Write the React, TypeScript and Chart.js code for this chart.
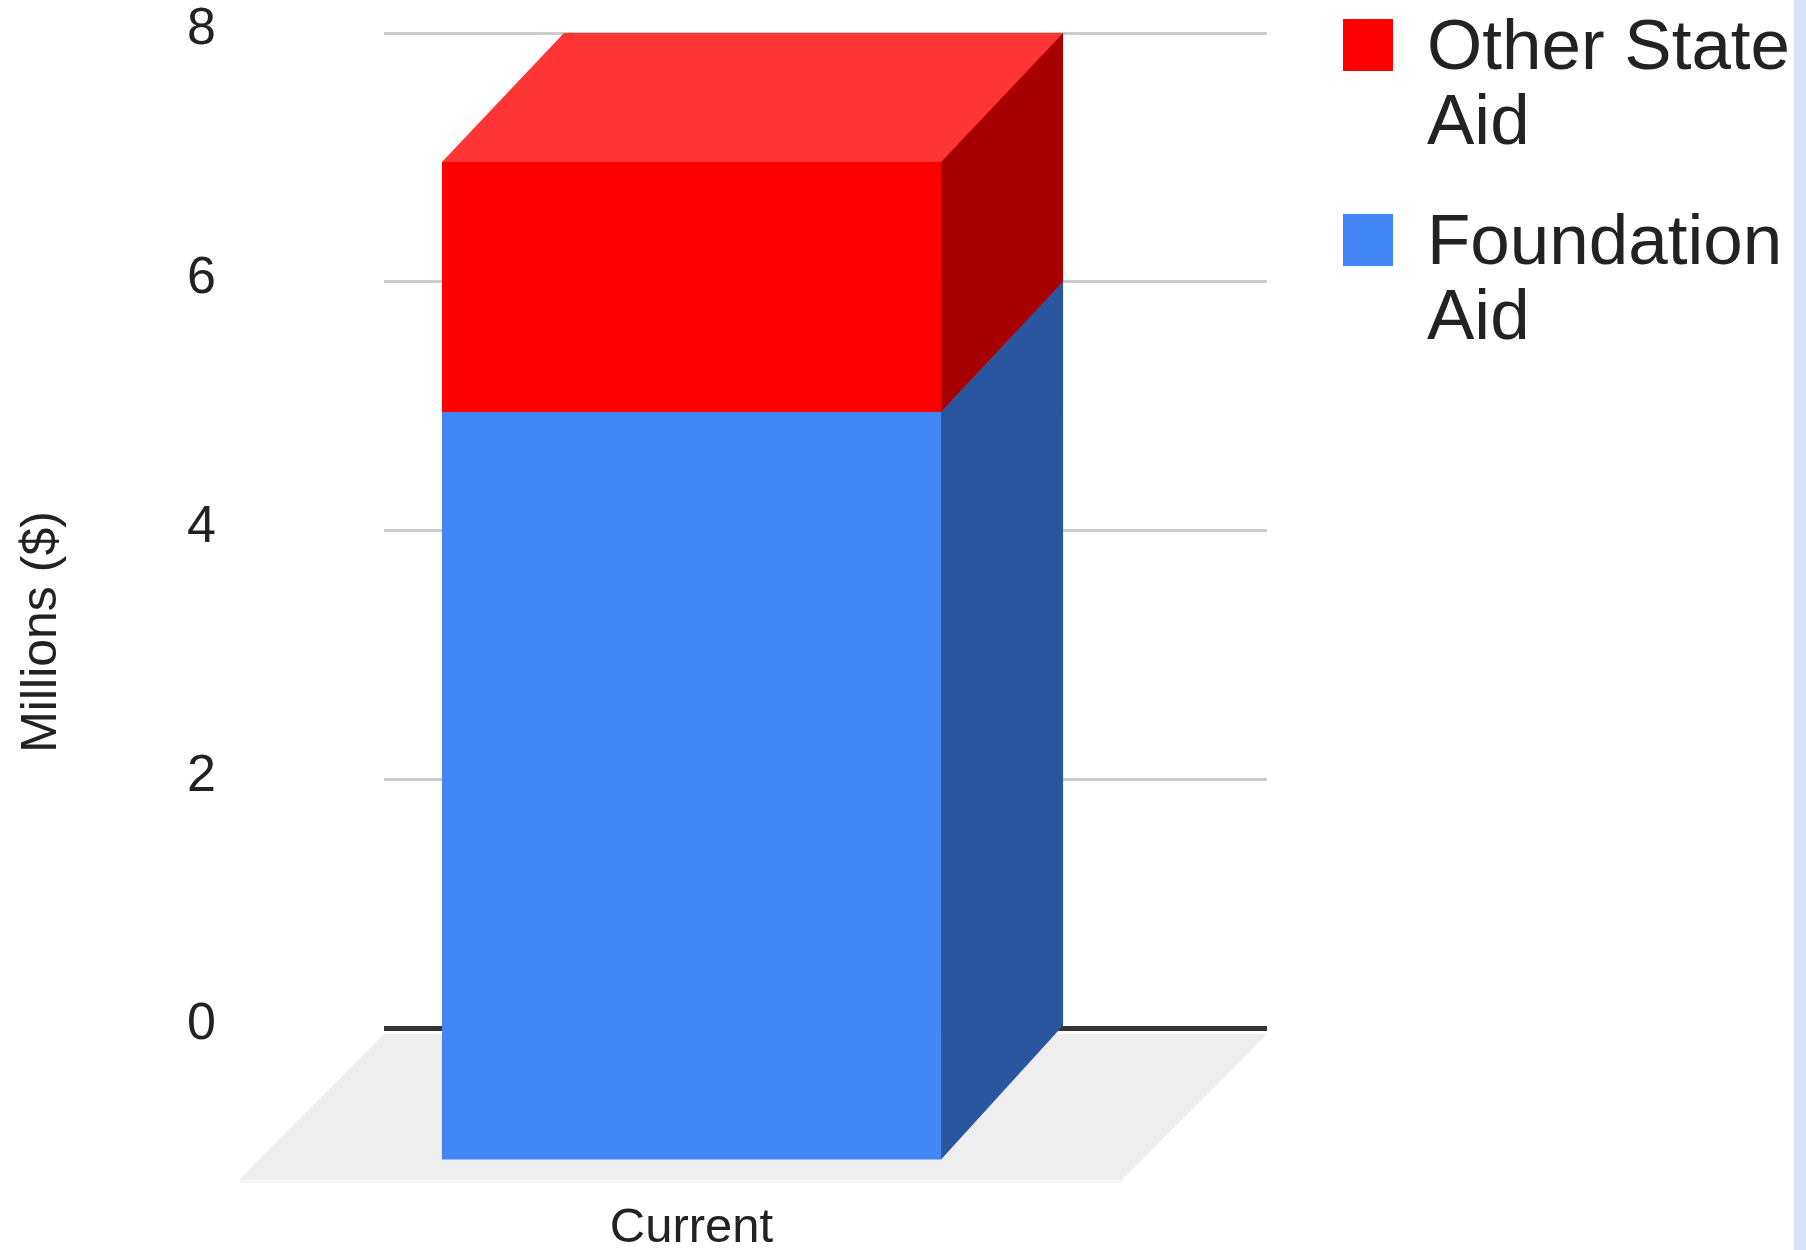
import { useEffect, useRef } from 'react';
import { Chart, registerables } from 'chart.js';

Chart.register(...registerables);

// ---- data ----
const categories = ['Current'];
const seriesNames = ['Foundation Aid', 'Other State Aid'];
const foundationAid = [6];
const otherStateAid = [2];
const yTickValues = [0, 2, 4, 6, 8];
const yAxisTitle = 'Millions ($)';

// ---- style ----
const FONT = "'Liberation Sans', Arial, Helvetica, sans-serif";
const TEXT = '#222222';
const FRONT_COLORS = ['#4285f4', '#ff0000'];
const SIDE_COLORS = ['#2a56a0', '#a60000'];
const TOP_COLORS = ['#5a95f5', '#ff3535'];
const GRID = '#cccccc';
const BASELINE = '#333333';
const FLOOR = '#eeeeee';
const FLOOR_EDGE = '#f5f5f5';
const DX = -122; // depth offset of the bar's front face
const DY_TOP = 129;
const DY_BOTTOM = 134;
const FLOOR_GAP = 6;
const FLOOR_DX = -144;
const FLOOR_DY = 145;

const gridColor = (c: any) => (c.tick && c.tick.value === 0 ? BASELINE : GRID);
const gridWidth = (c: any) => (c.tick && c.tick.value === 0 ? 5 : 3);

const threeD = {
  id: 'threeD',
  beforeDatasetsDraw(chart: any) {
    const { ctx, chartArea: a, scales } = chart;
    const x0 = a.left;
    const x1 = scales.y2.right;
    const by = a.bottom + FLOOR_GAP;
    ctx.save();
    ctx.fillStyle = FLOOR;
    ctx.beginPath();
    ctx.moveTo(x0, by);
    ctx.lineTo(x1, by);
    ctx.lineTo(x1 + FLOOR_DX, by + FLOOR_DY);
    ctx.lineTo(x0 + FLOOR_DX, by + FLOOR_DY);
    ctx.closePath();
    ctx.fill();
    ctx.fillStyle = FLOOR_EDGE;
    ctx.fillRect(x0 + FLOOR_DX, by + FLOOR_DY, x1 - x0, 4);
    ctx.restore();
  },
  afterDatasetsDraw(chart: any) {
    const { ctx, chartArea: a } = chart;
    const fy = (y: number) =>
      y + DY_TOP + ((y - a.top) / (a.bottom - a.top)) * (DY_BOTTOM - DY_TOP);
    const n = chart.data.datasets.length;
    ctx.save();
    for (let d = 0; d < n; d++) {
      const meta = chart.getDatasetMeta(d);
      meta.data.forEach((el: any) => {
        const bl = el.x - el.width / 2;
        const br = el.x + el.width / 2;
        const top = Math.min(el.y, el.base);
        const bot = Math.max(el.y, el.base);
        const fl = bl + DX;
        const fr = br + DX;
        // side face
        ctx.fillStyle = SIDE_COLORS[d];
        ctx.beginPath();
        ctx.moveTo(fr, fy(top));
        ctx.lineTo(br, top);
        ctx.lineTo(br, bot);
        ctx.lineTo(fr, fy(bot));
        ctx.closePath();
        ctx.fill();
        // front face
        ctx.fillStyle = FRONT_COLORS[d];
        ctx.fillRect(fl, fy(top), fr - fl, fy(bot) - fy(top));
        // top face (only on the top of the stack)
        if (d === n - 1) {
          ctx.fillStyle = TOP_COLORS[d];
          ctx.beginPath();
          ctx.moveTo(fl, fy(top));
          ctx.lineTo(fr, fy(top));
          ctx.lineTo(br, top);
          ctx.lineTo(bl, top);
          ctx.closePath();
          ctx.fill();
        }
      });
    }
    ctx.restore();
  },
  afterDraw(chart: any) {
    const { ctx, scales } = chart;
    ctx.save();
    // y-axis title
    ctx.translate(42, 632);
    ctx.rotate(-Math.PI / 2);
    ctx.fillStyle = TEXT;
    ctx.font = `50px ${FONT}`;
    ctx.textAlign = 'center';
    ctx.textBaseline = 'middle';
    ctx.fillText(yAxisTitle, 0, 0);
    ctx.restore();

    // legend
    ctx.save();
    const legX = scales.y2.right + 76;
    const textX = legX + 84;
    const maxW = 380;
    ctx.font = `71px ${FONT}`;
    ctx.textAlign = 'left';
    ctx.textBaseline = 'alphabetic';
    const order = chart.data.datasets.map((_: any, i: number) => i).reverse();
    order.forEach((di: number, i: number) => {
      const ds = chart.data.datasets[di];
      const top = 19 + i * 195;
      ctx.fillStyle = FRONT_COLORS[di];
      ctx.fillRect(legX, top, 50, 52);
      const words = String(ds.label).split(' ');
      const lines: string[] = [];
      let cur = '';
      words.forEach((w) => {
        const t = cur ? cur + ' ' + w : w;
        if (cur && ctx.measureText(t).width > maxW) {
          lines.push(cur);
          cur = w;
        } else cur = t;
      });
      if (cur) lines.push(cur);
      ctx.fillStyle = TEXT;
      lines.forEach((ln, j) => ctx.fillText(ln, textX, top + 50 + j * 75));
    });
    ctx.restore();
  },
};

export default function App() {
  const ref = useRef<HTMLCanvasElement>(null);
  useEffect(() => {
    const chart = new Chart(ref.current as HTMLCanvasElement, {
      type: 'bar',
      data: {
        labels: categories,
        datasets: [
          {
            label: seriesNames[0],
            data: foundationAid,
            backgroundColor: FRONT_COLORS[0],
            borderWidth: 0,
          },
          {
            label: seriesNames[1],
            data: otherStateAid,
            backgroundColor: FRONT_COLORS[1],
            borderWidth: 0,
          },
        ],
      },
      options: {
        animation: false,
        responsive: true,
        maintainAspectRatio: false,
        devicePixelRatio: 1,
        layout: { padding: { top: 33, right: 539, bottom: 0, left: 0 } },
        datasets: { bar: { barPercentage: 0.581, categoryPercentage: 1 } },
        plugins: { legend: { display: false }, tooltip: { enabled: false } },
        scales: {
          x: {
            stacked: true,
            grid: { display: false, drawTicks: false },
            border: { display: false },
            ticks: {
              padding: 171,
              labelOffset: -122,
              color: TEXT,
              font: { family: FONT, size: 49 },
            },
            afterFit: (s: any) => {
              s.height = 222;
              s.paddingLeft = 0;
              s.paddingRight = 0;
            },
          },
          y: {
            stacked: true,
            min: 0,
            max: 8,
            position: 'left',
            border: { display: false },
            grid: { color: gridColor, lineWidth: gridWidth, drawTicks: false },
            ticks: {
              padding: 168,
              labelOffset: -3,
              color: TEXT,
              font: { family: FONT, size: 52 },
            },
            afterBuildTicks: (s: any) => {
              s.ticks = yTickValues.map((v) => ({ value: v }));
            },
            afterFit: (s: any) => {
              s.width = 384;
              s.paddingTop = 0;
              s.paddingBottom = 0;
            },
          },
          y2: {
            min: 0,
            max: 8,
            position: 'right',
            border: { display: false },
            grid: {
              color: gridColor,
              lineWidth: gridWidth,
              drawOnChartArea: false,
              drawTicks: true,
              tickLength: 24,
            },
            ticks: { display: false, padding: 0 },
            afterBuildTicks: (s: any) => {
              s.ticks = yTickValues.map((v) => ({ value: v }));
            },
            afterFit: (s: any) => {
              s.width = 24;
              s.paddingTop = 0;
              s.paddingBottom = 0;
            },
          },
        },
      } as any,
      plugins: [threeD],
    });
    return () => chart.destroy();
  }, []);
  return (
    <div
      style={{
        position: 'absolute',
        left: 0,
        top: 0,
        width: 1806,
        height: 1250,
        background: '#ffffff',
        overflow: 'hidden',
      }}
    >
      <canvas ref={ref} />
      <div
        style={{
          position: 'absolute',
          right: 0,
          top: 0,
          width: 12,
          height: '100%',
          background: '#d8e3f5',
        }}
      />
    </div>
  );
}
